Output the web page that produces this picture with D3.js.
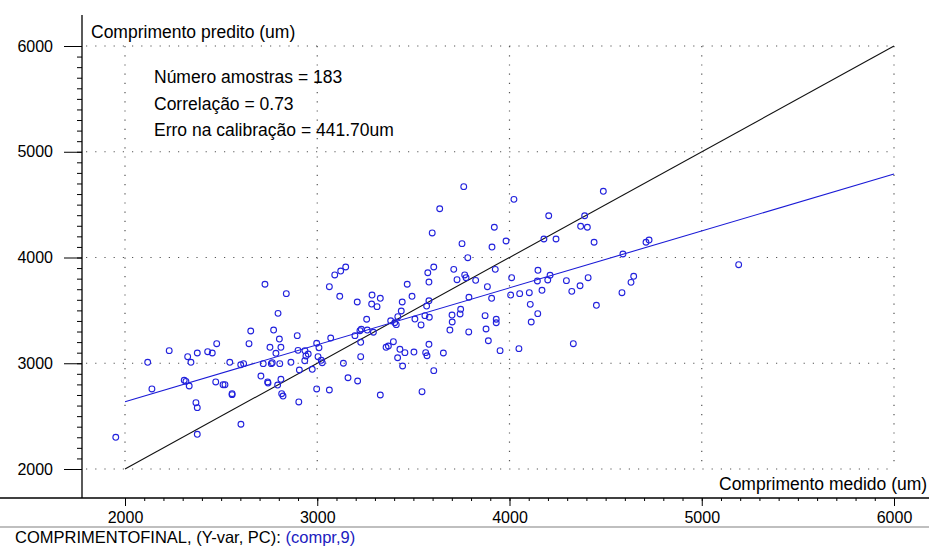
<!DOCTYPE html>
<html>
<head>
<meta charset="utf-8">
<script src="https://cdn.jsdelivr.net/npm/d3@7"></script>
<style>
  body { margin: 0; background: #fff; }
  svg { display: block; font-family: "Liberation Sans", Arial, sans-serif; }
</style>
</head>
<body>
<svg id="chart" width="929" height="547"></svg>
<script>
// measured (x) vs predicted (y) length, um
const samples = [
  [1952,2300],[2118,3009],[2140,2757],[2230,3119],[2308,2839],[2317,2829],[2334,2785],[2326,3062],
  [2343,3009],[2376,3097],[2430,3109],[2454,3097],[2477,3185],[2369,2627],[2376,2580],[2376,2328],
  [2472,2823],[2510,2797],[2520,2797],[2557,2712],[2557,2703],[2545,3009],[2602,2986],[2617,2996],
  [2603,2423],[2645,3185],[2654,3305],[2728,3747],[2839,3658],[2796,3472],[2773,3314],[2803,3229],
  [2754,3151],[2811,3151],[2785,3094],[2896,3261],[2900,3122],[2719,2996],[2761,2996],[2766,3005],
  [2805,2996],[2863,3009],[2707,2879],[2742,2823],[2744,2813],[2811,2848],[2794,2794],[2815,2712],
  [2822,2690],[2907,2936],[2904,2634],
  [3762,4670],[3637,4461],[3598,4232],[3753,4131],[3909,4099],[3921,4286],[3783,3998],[3148,3910],
  [3122,3872],[3091,3835],[3063,3724],[3117,3633],[3208,3579],[3285,3645],[3328,3614],[3283,3560],
  [3311,3535],[3468,3747],[3442,3579],[3493,3633],[3575,3856],[3606,3910],[3581,3768],[3710,3888],
  [3727,3790],[3767,3835],[3774,3809],[3824,3784],[3926,3888],[3885,3724],[3907,3614],[3789,3624],
  [3581,3591],[3569,3541],
  [3257,3416],[3437,3494],[3419,3440],[3382,3402],[3411,3365],[3403,3383],[3508,3418],[3540,3362],
  [3560,3450],[3583,3435],[3701,3456],[3743,3466],[3746,3510],[3702,3390],[3690,3314],[3788,3296],
  [3873,3450],[3931,3416],[3931,3383],[3878,3324],[3890,3213],[3951,3119],[3222,3308],[3229,3321],
  [3260,3314],[3292,3293],[3196,3261],[3226,3198],[3070,3239],[2997,3189],[3009,3147],[2936,3119],
  [2953,3087],[2941,3069],[2935,3024],[3004,3062],[3021,3028],[3026,3005],[2974,2943],[3136,3000],
  [3226,3062],[3358,3151],[3370,3163],[3396,3204],[3430,3132],[3456,3100],[3444,2974],[3418,3052],
  [3503,3106],[3564,3100],[3571,3071],[3581,3179],[3656,3097],[3606,2930],[3160,2863],[3210,2832],
  [2997,2757],[3063,2747],[3328,2700],[3545,2731],
  [4023,4550],[4488,4626],[4204,4395],[4391,4395],[4370,4295],[4405,4286],[3982,4156],[4179,4175],
  [4242,4175],[4440,4144],[4710,4144],[4726,4165],[4590,4033],[5192,3932],[4148,3879],[4011,3809],
  [4211,3832],[4199,3787],[4145,3778],[4296,3781],[4409,3809],[4367,3733],[4324,3680],[4169,3690],
  [4006,3645],[4053,3658],[4103,3667],[4646,3822],[4632,3765],[4585,3667],[4108,3557],[4452,3548],
  [4147,3469],[4113,3390],[4332,3185],[4049,3138]
];
const identityLine = [[2000, 2000], [6000, 6000]];
const fitLine = [[2000, 2636], [6000, 4790]];
const majorTicks = [2000, 3000, 4000, 5000, 6000];
const minorTicks = d3.range(2000, 6001, 100);
const statLines = ["Número amostras = 183", "Correlação = 0.73", "Erro na calibração = 441.70um"];
const yTitle = "Comprimento predito (um)";
const xTitle = "Comprimento medido (um)";
const footerText = "COMPRIMENTOFINAL, (Y-var, PC): ";
const footerVar = "(compr,9)";

const svg = d3.select('#chart')
const W = 929, H = 547
const axisX = 82, axisY = 498

const x = d3.scaleLinear().domain([2000, 6000]).range([125, 894])
const y = d3.scaleLinear().domain([2000, 6000]).range([469, 46])

svg.append('rect').attr('width', W).attr('height', H).attr('fill', '#fff')

// dotted grid
const grid = svg.append('g')
  .attr('stroke', '#555')
  .attr('stroke-width', 1.2)
  .attr('stroke-dasharray', '1.2,8')

grid.selectAll('.hg').data(majorTicks).join('line')
  .attr('x1', axisX + 4).attr('x2', x(6000))
  .attr('y1', d => y(d)).attr('y2', d => y(d))

grid.selectAll('.vg').data(majorTicks).join('line')
  .attr('x1', d => x(d)).attr('x2', d => x(d))
  .attr('y1', y(6000)).attr('y2', y(2000))

// axes
const xMinor = d3.axisBottom(x).tickValues(minorTicks).tickSize(3).tickFormat('')
const xMajor = d3.axisBottom(x).tickValues(majorTicks).tickSize(8).tickPadding(6).tickFormat(d3.format('d'))
const yMinor = d3.axisLeft(y).tickValues(minorTicks).tickSize(5).tickFormat('')
const yMajor = d3.axisLeft(y).tickValues(majorTicks).tickSize(18).tickPadding(11).tickFormat(d3.format('d'))

const styleAxis = g => {
  g.select('.domain').remove()
  g.selectAll('line').attr('stroke', '#000')
  g.selectAll('text').attr('fill', '#000').style('font-size', '16px')
    .style('font-family', '"Liberation Sans", Arial, sans-serif')
}

svg.append('g').attr('transform', `translate(0,${axisY})`).call(xMinor).call(styleAxis)
svg.append('g').attr('transform', `translate(0,${axisY})`).call(xMajor).call(styleAxis)
svg.append('g').attr('transform', `translate(${axisX},0)`).call(yMinor).call(styleAxis)
svg.append('g').attr('transform', `translate(${axisX},0)`).call(yMajor).call(styleAxis)

svg.append('line').attr('x1', 0).attr('x2', W).attr('y1', axisY).attr('y2', axisY)
  .attr('stroke', '#000').attr('stroke-width', 1.3)
svg.append('line').attr('x1', axisX).attr('x2', axisX).attr('y1', 15).attr('y2', axisY)
  .attr('stroke', '#000').attr('stroke-width', 1.3)
svg.append('line').attr('x1', 0).attr('x2', W).attr('y1', 527).attr('y2', 527)
  .attr('stroke', '#aaa').attr('stroke-width', 1.5)

const line = d3.line().x(d => x(d[0])).y(d => y(d[1]))

svg.append('path').datum(identityLine).attr('d', line)
  .attr('fill', 'none').attr('stroke', '#111').attr('stroke-width', 1.1)

svg.append('path').datum(fitLine).attr('d', line)
  .attr('fill', 'none').attr('stroke', '#1a1ad6').attr('stroke-width', 1.1)

svg.append('g').selectAll('circle').data(samples).join('circle')
  .attr('cx', d => x(d[0])).attr('cy', d => y(d[1])).attr('r', 2.9)
  .attr('fill', 'none').attr('stroke', '#2222dd').attr('stroke-width', 1.1)

// texts
const txt = (tx, ty, s, size) => svg.append('text')
  .attr('x', tx).attr('y', ty).attr('fill', '#000')
  .style('font-size', size + 'px').text(s)

txt(91, 37.5, yTitle, 17.5)
txt(719, 490, xTitle, 17.5)
statLines.forEach((s, i) => txt(154, 83 + i * 26.7, s, 17.5))

const foot = svg.append('text').attr('x', 15).attr('y', 543.3)
  .style('font-size', '16.5px').attr('fill', '#000')
foot.append('tspan').text(footerText)
foot.append('tspan').attr('fill', '#2020c0').text(footerVar)
</script>
</body>
</html>
